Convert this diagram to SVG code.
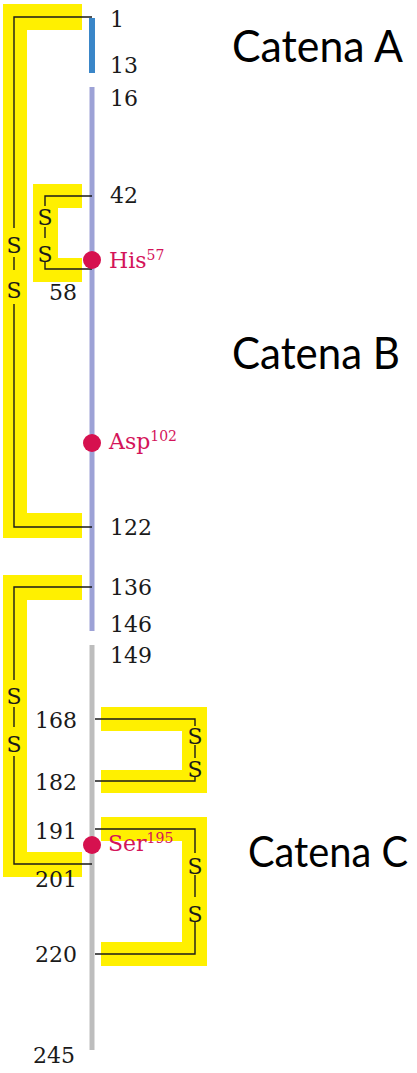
<svg xmlns="http://www.w3.org/2000/svg" width="417" height="1073" viewBox="0 0 417 1073">
  <style>
    .hl { fill: #fff000; }
    .bond { fill: none; stroke: #1a1a1a; stroke-width: 1.4; }
    .num { font-family: "DejaVu Serif", "Liberation Serif", serif; font-size: 22px; fill: #1a1a1a; }
    .s { font-family: "DejaVu Serif", "Liberation Serif", serif; font-size: 22px; fill: #1a1a1a; text-anchor: middle; }
    .res { font-family: "DejaVu Serif", "Liberation Serif", serif; font-size: 22px; fill: #d4145a; }
    .sup { font-size: 14px; }
    .chain { font-family: "Comic Sans MS", "Lato", "DejaVu Sans", sans-serif; font-size: 44px; fill: #000; }
    .dot { fill: #d6114f; }
  </style>

  <!-- disulfide highlight bands -->
  <g id="highlights">
    <path class="hl" d="M3,4 H82 V30 H27 V513 H82 V538 H3 Z"/>
    <path class="hl" d="M33,184 H82 V208 H58 V258 H82 V282 H33 Z"/>
    <path class="hl" d="M3,575 H82 V600 H27 V852 H82 V877 H3 Z"/>
    <path class="hl" d="M101,707 H207 V793 H101 V770 H182 V731 H101 Z"/>
    <path class="hl" d="M101,817 H207 V966 H101 V942 H182 V841 H101 Z"/>
  </g>

  <!-- polypeptide chains -->
  <g id="chains">
    <line id="chainA" x1="92" y1="18" x2="92" y2="73" stroke="#3a86c8" stroke-width="6"/>
    <line id="chainB" x1="92" y1="87" x2="92" y2="631" stroke="#9da2d6" stroke-width="5"/>
    <line id="chainC" x1="92" y1="645" x2="92" y2="1050" stroke="#bdbdbd" stroke-width="5"/>
  </g>

  <!-- disulfide bridges -->
  <g id="connectors">
    <polyline class="bond" points="92,17 14,17 14,228"/>
    <line class="bond" x1="14" y1="257" x2="14" y2="270"/>
    <polyline class="bond" points="14,304 14,527 92,527"/>

    <polyline class="bond" points="92,196 45,196 45,206"/>
    <line class="bond" x1="45" y1="227" x2="45" y2="238"/>
    <polyline class="bond" points="45,262 45,269 92,269"/>

    <polyline class="bond" points="92,587 14,587 14,680"/>
    <line class="bond" x1="14" y1="707" x2="14" y2="727"/>
    <polyline class="bond" points="14,756 14,864 92,864"/>

    <polyline class="bond" points="95,719 195,719 195,726"/>
    <line class="bond" x1="195" y1="745" x2="195" y2="758"/>
    <polyline class="bond" points="195,776 195,781 95,781"/>

    <polyline class="bond" points="95,829 195,829 195,853"/>
    <line class="bond" x1="195" y1="875" x2="195" y2="897"/>
    <polyline class="bond" points="195,922 195,954 95,954"/>
  </g>

  <!-- sulfur labels -->
  <g id="sulfur">
    <text class="s" x="14" y="253">S</text>
    <text class="s" x="14" y="298">S</text>
    <text class="s" x="45" y="225">S</text>
    <text class="s" x="45" y="262">S</text>
    <text class="s" x="14" y="704">S</text>
    <text class="s" x="14" y="752">S</text>
    <text class="s" x="195" y="744">S</text>
    <text class="s" x="195" y="777">S</text>
    <text class="s" x="195" y="874">S</text>
    <text class="s" x="195" y="922">S</text>
  </g>

  <!-- residue numbers -->
  <g id="numbers" class="num">
    <text x="110" y="27">1</text>
    <text x="110" y="73">13</text>
    <text x="110" y="106">16</text>
    <text x="110" y="203">42</text>
    <text x="77" y="300" text-anchor="end">58</text>
    <text x="110" y="535">122</text>
    <text x="110" y="595">136</text>
    <text x="110" y="632">146</text>
    <text x="110" y="663">149</text>
    <text x="77" y="728" text-anchor="end">168</text>
    <text x="77" y="790" text-anchor="end">182</text>
    <text x="77" y="839" text-anchor="end">191</text>
    <text x="77" y="887" text-anchor="end">201</text>
    <text x="77" y="962" text-anchor="end">220</text>
    <text x="75" y="1063" text-anchor="end">245</text>
  </g>

  <!-- catalytic triad -->
  <g id="his57">
    <circle class="dot" cx="92" cy="260" r="9"/>
    <text class="res" x="109" y="268">His<tspan class="sup" dy="-8">57</tspan></text>
  </g>
  <g id="asp102">
    <circle class="dot" cx="92" cy="443" r="9"/>
    <text class="res" x="109" y="449">Asp<tspan class="sup" dy="-8">102</tspan></text>
  </g>
  <g id="ser195">
    <circle class="dot" cx="92" cy="845" r="9"/>
    <text class="res" x="108" y="851">Ser<tspan class="sup" dy="-8">195</tspan></text>
  </g>

  <!-- chain names -->
  <g id="labels" class="chain">
    <text x="232" y="62" textLength="171" lengthAdjust="spacingAndGlyphs">Catena A</text>
    <text x="232" y="369" textLength="168" lengthAdjust="spacingAndGlyphs">Catena B</text>
    <text x="248" y="867" font-size="42" textLength="160" lengthAdjust="spacingAndGlyphs">Catena C</text>
  </g>
</svg>
